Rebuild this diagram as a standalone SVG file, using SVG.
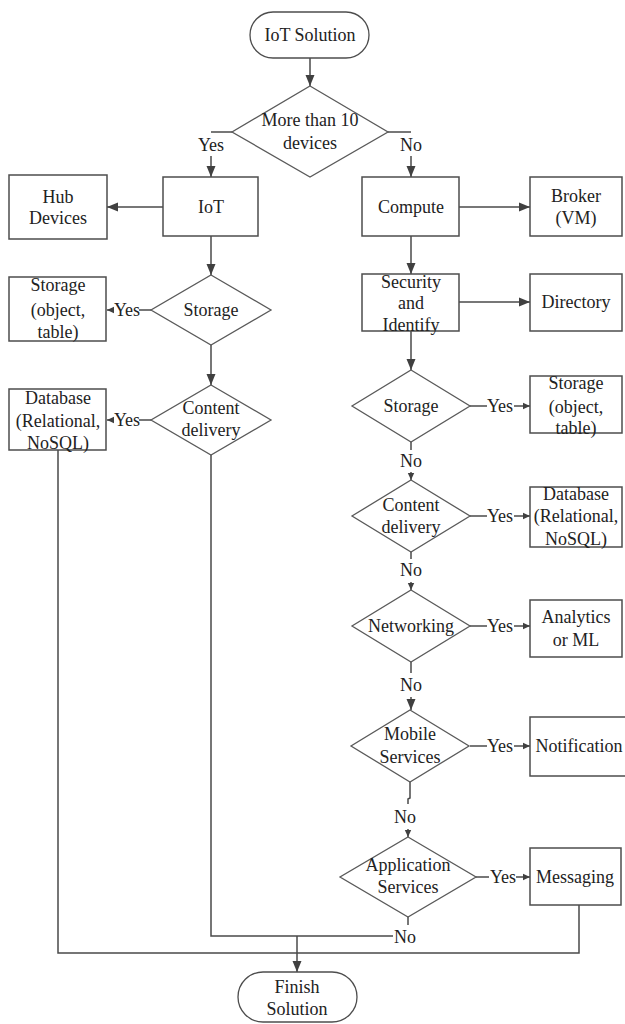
<svg xmlns="http://www.w3.org/2000/svg" width="625" height="1024" viewBox="0 0 625 1024">
  <style>
    .box { fill: #ffffff; stroke: #4d4d4d; stroke-width: 1.5; }
    .term { fill: #ffffff; stroke: #4d4d4d; stroke-width: 1.3; }
    .dia { fill: #ffffff; stroke: #5a5a5a; stroke-width: 1.3; }
    .ln { fill: none; stroke: #4a4a4a; stroke-width: 1.5; }
    .big { marker-end: url(#arr); }
    .sm { marker-end: url(#arrs); }
    text { font-family: "Liberation Serif", "Times New Roman", serif; font-size: 18px; fill: #222222; text-anchor: middle; }
  </style>
  <defs>
    <marker id="arr" markerUnits="userSpaceOnUse" markerWidth="12" markerHeight="10" refX="11" refY="5" orient="auto">
      <path d="M0,0.5 L11,5 L0,9.5 Z" fill="#404040"/>
    </marker>
    <marker id="arrs" markerUnits="userSpaceOnUse" markerWidth="8" markerHeight="8" refX="7" refY="4" orient="auto">
      <path d="M0,0.8 L7,4 L0,7.2 Z" fill="#404040"/>
    </marker>
  </defs>

  <rect width="625" height="1024" fill="#ffffff"/>

  <!-- connectors -->
  <g id="connectors">
    <line class="ln big" x1="310" y1="58" x2="310" y2="86"/>
    <polyline class="ln" points="232,132 211,132"/>
    <line class="ln big" x1="211" y1="156" x2="211" y2="177"/>
    <polyline class="ln" points="388,132 411,132"/>
    <line class="ln big" x1="411" y1="156" x2="411" y2="177"/>
    <line class="ln big" x1="163" y1="207" x2="107" y2="207"/>
    <line class="ln big" x1="459" y1="207" x2="530" y2="207"/>
    <line class="ln big" x1="211" y1="236" x2="211" y2="275"/>
    <line class="ln" x1="151" y1="310" x2="139" y2="310"/>
    <line class="ln sm" x1="114" y1="310" x2="107" y2="310"/>
    <line class="ln big" x1="211" y1="345" x2="211" y2="385"/>
    <line class="ln" x1="151" y1="420" x2="139" y2="420"/>
    <line class="ln sm" x1="114" y1="420" x2="107" y2="420"/>
    <polyline class="ln" points="211,455 211,936 393,936"/>
    <polyline class="ln" points="58,450 58,953 579,953 579,905"/>
    <line class="ln big" x1="297" y1="936" x2="297" y2="972"/>
    <line class="ln" x1="408" y1="917" x2="408" y2="925"/>
    <line class="ln big" x1="411" y1="236" x2="411" y2="274"/>
    <line class="ln big" x1="459" y1="302" x2="530" y2="302"/>
    <line class="ln big" x1="411" y1="331" x2="411" y2="370"/>
    <line class="ln" x1="470" y1="406" x2="487" y2="406"/>
    <line class="ln sm" x1="514" y1="406" x2="530" y2="406"/>
    <line class="ln" x1="411" y1="442" x2="411" y2="450"/>
    <line class="ln sm" x1="411" y1="472" x2="411" y2="480"/>
    <line class="ln" x1="470" y1="516" x2="487" y2="516"/>
    <line class="ln sm" x1="514" y1="516" x2="530" y2="516"/>
    <line class="ln" x1="411" y1="552" x2="411" y2="559"/>
    <line class="ln sm" x1="411" y1="582" x2="411" y2="590"/>
    <line class="ln" x1="470" y1="626" x2="487" y2="626"/>
    <line class="ln sm" x1="514" y1="626" x2="530" y2="626"/>
    <line class="ln" x1="411" y1="662" x2="411" y2="673"/>
    <line class="ln big" x1="411" y1="697" x2="411" y2="710"/>
    <line class="ln" x1="470" y1="746" x2="487" y2="746"/>
    <line class="ln sm" x1="514" y1="746" x2="530" y2="746"/>
    <polyline class="ln" points="410,782 410,798 408,799 408,804"/>
    <line class="ln sm" x1="408" y1="829" x2="408" y2="837"/>
    <line class="ln" x1="476" y1="877" x2="489" y2="877"/>
    <line class="ln sm" x1="516" y1="877" x2="530" y2="877"/>
  </g>

  <!-- connector labels -->
  <g id="labels">
    <text x="211" y="151">Yes</text>
    <text x="411" y="151">No</text>
    <text x="127" y="316">Yes</text>
    <text x="127" y="426">Yes</text>
    <text x="500" y="412">Yes</text>
    <text x="411" y="467">No</text>
    <text x="500" y="522">Yes</text>
    <text x="411" y="576">No</text>
    <text x="500" y="632">Yes</text>
    <text x="411" y="691">No</text>
    <text x="500" y="752">Yes</text>
    <text x="405" y="823">No</text>
    <text x="503" y="883">Yes</text>
    <text x="405" y="943">No</text>
  </g>

  <g id="start">
    <rect class="term" x="250" y="12" width="119" height="46" rx="23"/>
    <text x="310" y="41">IoT Solution</text>
  </g>

  <g id="q-devices">
    <polygon class="dia" points="310,86 388,132 310,177 232,132"/>
    <text x="310" y="126">More than 10</text>
    <text x="310" y="149">devices</text>
  </g>

  <g id="hub">
    <rect class="box" x="9" y="175" width="98" height="64"/>
    <text x="58" y="203">Hub</text>
    <text x="58" y="224">Devices</text>
  </g>

  <g id="iot">
    <rect class="box" x="163" y="177" width="95" height="59"/>
    <text x="211" y="213">IoT</text>
  </g>

  <g id="compute">
    <rect class="box" x="362" y="177" width="97" height="59"/>
    <text x="411" y="213">Compute</text>
  </g>

  <g id="broker">
    <rect class="box" x="530" y="177" width="92" height="59"/>
    <text x="576" y="202">Broker</text>
    <text x="576" y="224">(VM)</text>
  </g>

  <g id="storage-left">
    <rect class="box" x="9" y="277" width="97" height="64"/>
    <text x="58" y="291">Storage</text>
    <text x="58" y="316">(object,</text>
    <text x="58" y="338">table)</text>
  </g>

  <g id="q-storage-left">
    <polygon class="dia" points="211,275 271,310 211,345 151,310"/>
    <text x="211" y="316">Storage</text>
  </g>

  <g id="database-left">
    <rect class="box" x="9" y="389" width="97" height="61"/>
    <text x="58" y="404">Database</text>
    <text x="58" y="427">(Relational,</text>
    <text x="58" y="449">NoSQL)</text>
  </g>

  <g id="q-content-left">
    <polygon class="dia" points="211,385 271,420 211,455 151,420"/>
    <text x="211" y="414">Content</text>
    <text x="211" y="436">delivery</text>
  </g>

  <g id="security">
    <rect class="box" x="362" y="274" width="97" height="57"/>
    <text x="411" y="288">Security</text>
    <text x="411" y="309">and</text>
    <text x="411" y="331">Identify</text>
  </g>

  <g id="directory">
    <rect class="box" x="530" y="274" width="92" height="57"/>
    <text x="576" y="308">Directory</text>
  </g>

  <g id="q-storage-right">
    <polygon class="dia" points="411,370 470,406 411,442 352,406"/>
    <text x="411" y="412">Storage</text>
  </g>

  <g id="storage-right">
    <rect class="box" x="530" y="376" width="92" height="57"/>
    <text x="576" y="389">Storage</text>
    <text x="576" y="413">(object,</text>
    <text x="576" y="434">table)</text>
  </g>

  <g id="q-content-right">
    <polygon class="dia" points="411,480 470,516 411,552 352,516"/>
    <text x="411" y="511">Content</text>
    <text x="411" y="533">delivery</text>
  </g>

  <g id="database-right">
    <rect class="box" x="530" y="487" width="92" height="60"/>
    <text x="576" y="500">Database</text>
    <text x="576" y="522">(Relational,</text>
    <text x="576" y="545">NoSQL)</text>
  </g>

  <g id="q-networking">
    <polygon class="dia" points="411,590 470,626 411,662 352,626"/>
    <text x="411" y="632">Networking</text>
  </g>

  <g id="analytics">
    <rect class="box" x="530" y="600" width="92" height="57"/>
    <text x="576" y="623">Analytics</text>
    <text x="576" y="646">or ML</text>
  </g>

  <g id="q-mobile">
    <polygon class="dia" points="410,710 469,746 410,782 351,746"/>
    <text x="410" y="740">Mobile</text>
    <text x="410" y="763">Services</text>
  </g>

  <g id="notification">
    <rect class="box" x="530" y="717" width="100" height="59"/>
    <text x="579" y="752">Notification</text>
  </g>

  <g id="q-application">
    <polygon class="dia" points="408,837 476,877 408,917 340,877"/>
    <text x="408" y="871">Application</text>
    <text x="408" y="893">Services</text>
  </g>

  <g id="messaging">
    <rect class="box" x="530" y="848" width="91" height="57"/>
    <text x="575" y="883">Messaging</text>
  </g>

  <g id="finish">
    <rect class="term" x="238" y="972" width="119" height="50" rx="25"/>
    <text x="297" y="993">Finish</text>
    <text x="297" y="1015">Solution</text>
  </g>
</svg>
